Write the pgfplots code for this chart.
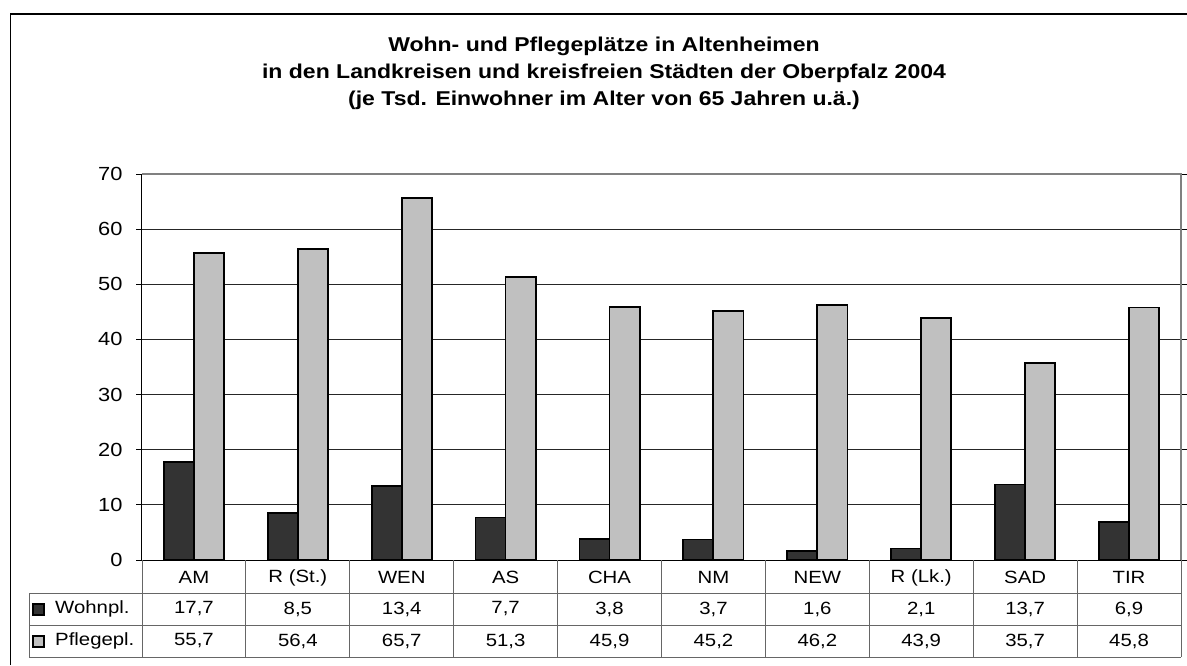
\documentclass[border=0pt]{standalone}
\usepackage{pgfplots}
\pgfplotsset{compat=1.18}
\usepackage{pgfplotstable}
\usepackage{fontspec}
\setmainfont{Liberation Sans}
\newfontfamily\widefont[FakeStretch=1.15]{Liberation Sans}
\definecolor{darkbar}{HTML}{333333}
\definecolor{lightbar}{HTML}{C0C0C0}
\pgfplotstableread{
x w p rowc roww rowp
0 17.7 55.7 -2.99 -8.886 -14.69
1 8.5 56.4 -2.99 -8.886 -14.69
2 13.4 65.7 -2.99 -8.886 -14.69
3 7.7 51.3 -2.99 -8.886 -14.69
4 3.8 45.9 -2.99 -8.886 -14.69
5 3.7 45.2 -2.99 -8.886 -14.69
6 1.6 46.2 -2.99 -8.886 -14.69
7 2.1 43.9 -2.99 -8.886 -14.69
8 13.7 35.7 -2.99 -8.886 -14.69
9 6.9 45.8 -2.99 -8.886 -14.69
}\data
\newcommand\tabfont{\widefont\fontsize{17.7}{20}\selectfont}
\begin{document}
\begin{tikzpicture}[x=1pt,y=1pt]
\path[use as bounding box] (0,0) rectangle (1187,665);
\draw[line width=1.3pt] (10.5,0) -- (10.5,651) -- (1187,651);
\node[anchor=base,font=\widefont\fontsize{20}{24}\selectfont\bfseries] at (604,613) {Wohn- und Pflegeplätze in Altenheimen};
\node[anchor=base,font=\widefont\fontsize{20}{24}\selectfont\bfseries] at (604,586) {in den Landkreisen und kreisfreien Städten der Oberpfalz 2004};
\node[anchor=base,font=\widefont\fontsize{20}{24}\selectfont\bfseries] at (604,559) {(je Tsd. Einwohner im Alter von 65 Jahren u.ä.)};
\begin{axis}[
  at={(142pt,105pt)}, anchor=south west,
  scale only axis, width=1039pt, height=386pt,
  xmin=-0.5, xmax=9.5, ymin=0, ymax=70,
  ytick={0,10,...,70},
  xtick={0,...,9},
  xticklabels={AM,{R (St.)},WEN,AS,CHA,NM,NEW,{R (Lk.)},SAD,TIR},
  x tick style={draw=none},
  xticklabel style={anchor=center,yshift=-11.5pt,font=\tabfont},
  yticklabel style={font=\widefont\fontsize{19}{22}\selectfont,xshift=-10pt},
  tick align=outside,
  major tick length=6pt,
  y tick style={black,line width=1pt},
  axis line style={draw=none},
  ymajorgrids, grid style={black!85,line width=1pt},
  clip=false,
  /pgf/number format/assume math mode=true,
]
\addplot[ybar,bar width=0.29,bar shift=-0.1445,fill=darkbar,draw=black,line width=1.8pt] table[x=x,y=w]{\data};
\addplot[ybar,bar width=0.29,bar shift=0.1445,fill=lightbar,draw=black,line width=1.8pt] table[x=x,y=p]{\data};
\addplot[draw=none,mark=none,forget plot,point meta=\thisrow{w},
  nodes near coords={\pgfmathprintnumber[fixed,fixed zerofill,precision=1,use comma]{\pgfplotspointmeta}},
  every node near coord/.append style={anchor=center,font=\tabfont}]
  table[x=x,y=roww]{\data};
\addplot[draw=none,mark=none,forget plot,point meta=\thisrow{p},
  nodes near coords={\pgfmathprintnumber[fixed,fixed zerofill,precision=1,use comma]{\pgfplotspointmeta}},
  every node near coord/.append style={anchor=center,font=\tabfont}]
  table[x=x,y=rowp]{\data};
\draw[black!50,line width=1.5pt] (rel axis cs:0,1) -- (rel axis cs:1,1) -- (rel axis cs:1,0);
\draw[black,line width=1pt] (rel axis cs:0,1) -- (rel axis cs:0,0) -- (rel axis cs:1,0);
\end{axis}
\foreach \k in {0,...,10} {
  \draw[black!60,line width=1pt] ({142+103.9*\k},105) -- ({142+103.9*\k},8);
}
\draw[black!60,line width=1pt] (29,72) -- (1181,72);
\draw[black!60,line width=1pt] (29,40) -- (1181,40);
\draw[black!60,line width=1pt] (29,8) -- (1181,8);
\draw[black!60,line width=1pt] (29,72) -- (29,8);
\draw[black,line width=1.3pt,fill=darkbar] (33,50) rectangle (44,61);
\draw[black,line width=1.3pt,fill=lightbar] (33,18) rectangle (44,29);
\node[anchor=west,font=\tabfont,inner sep=0pt] at (55,56) {Wohnpl.};
\node[anchor=west,font=\tabfont,inner sep=0pt] at (55,24) {Pflegepl.};
\end{tikzpicture}
\end{document}
